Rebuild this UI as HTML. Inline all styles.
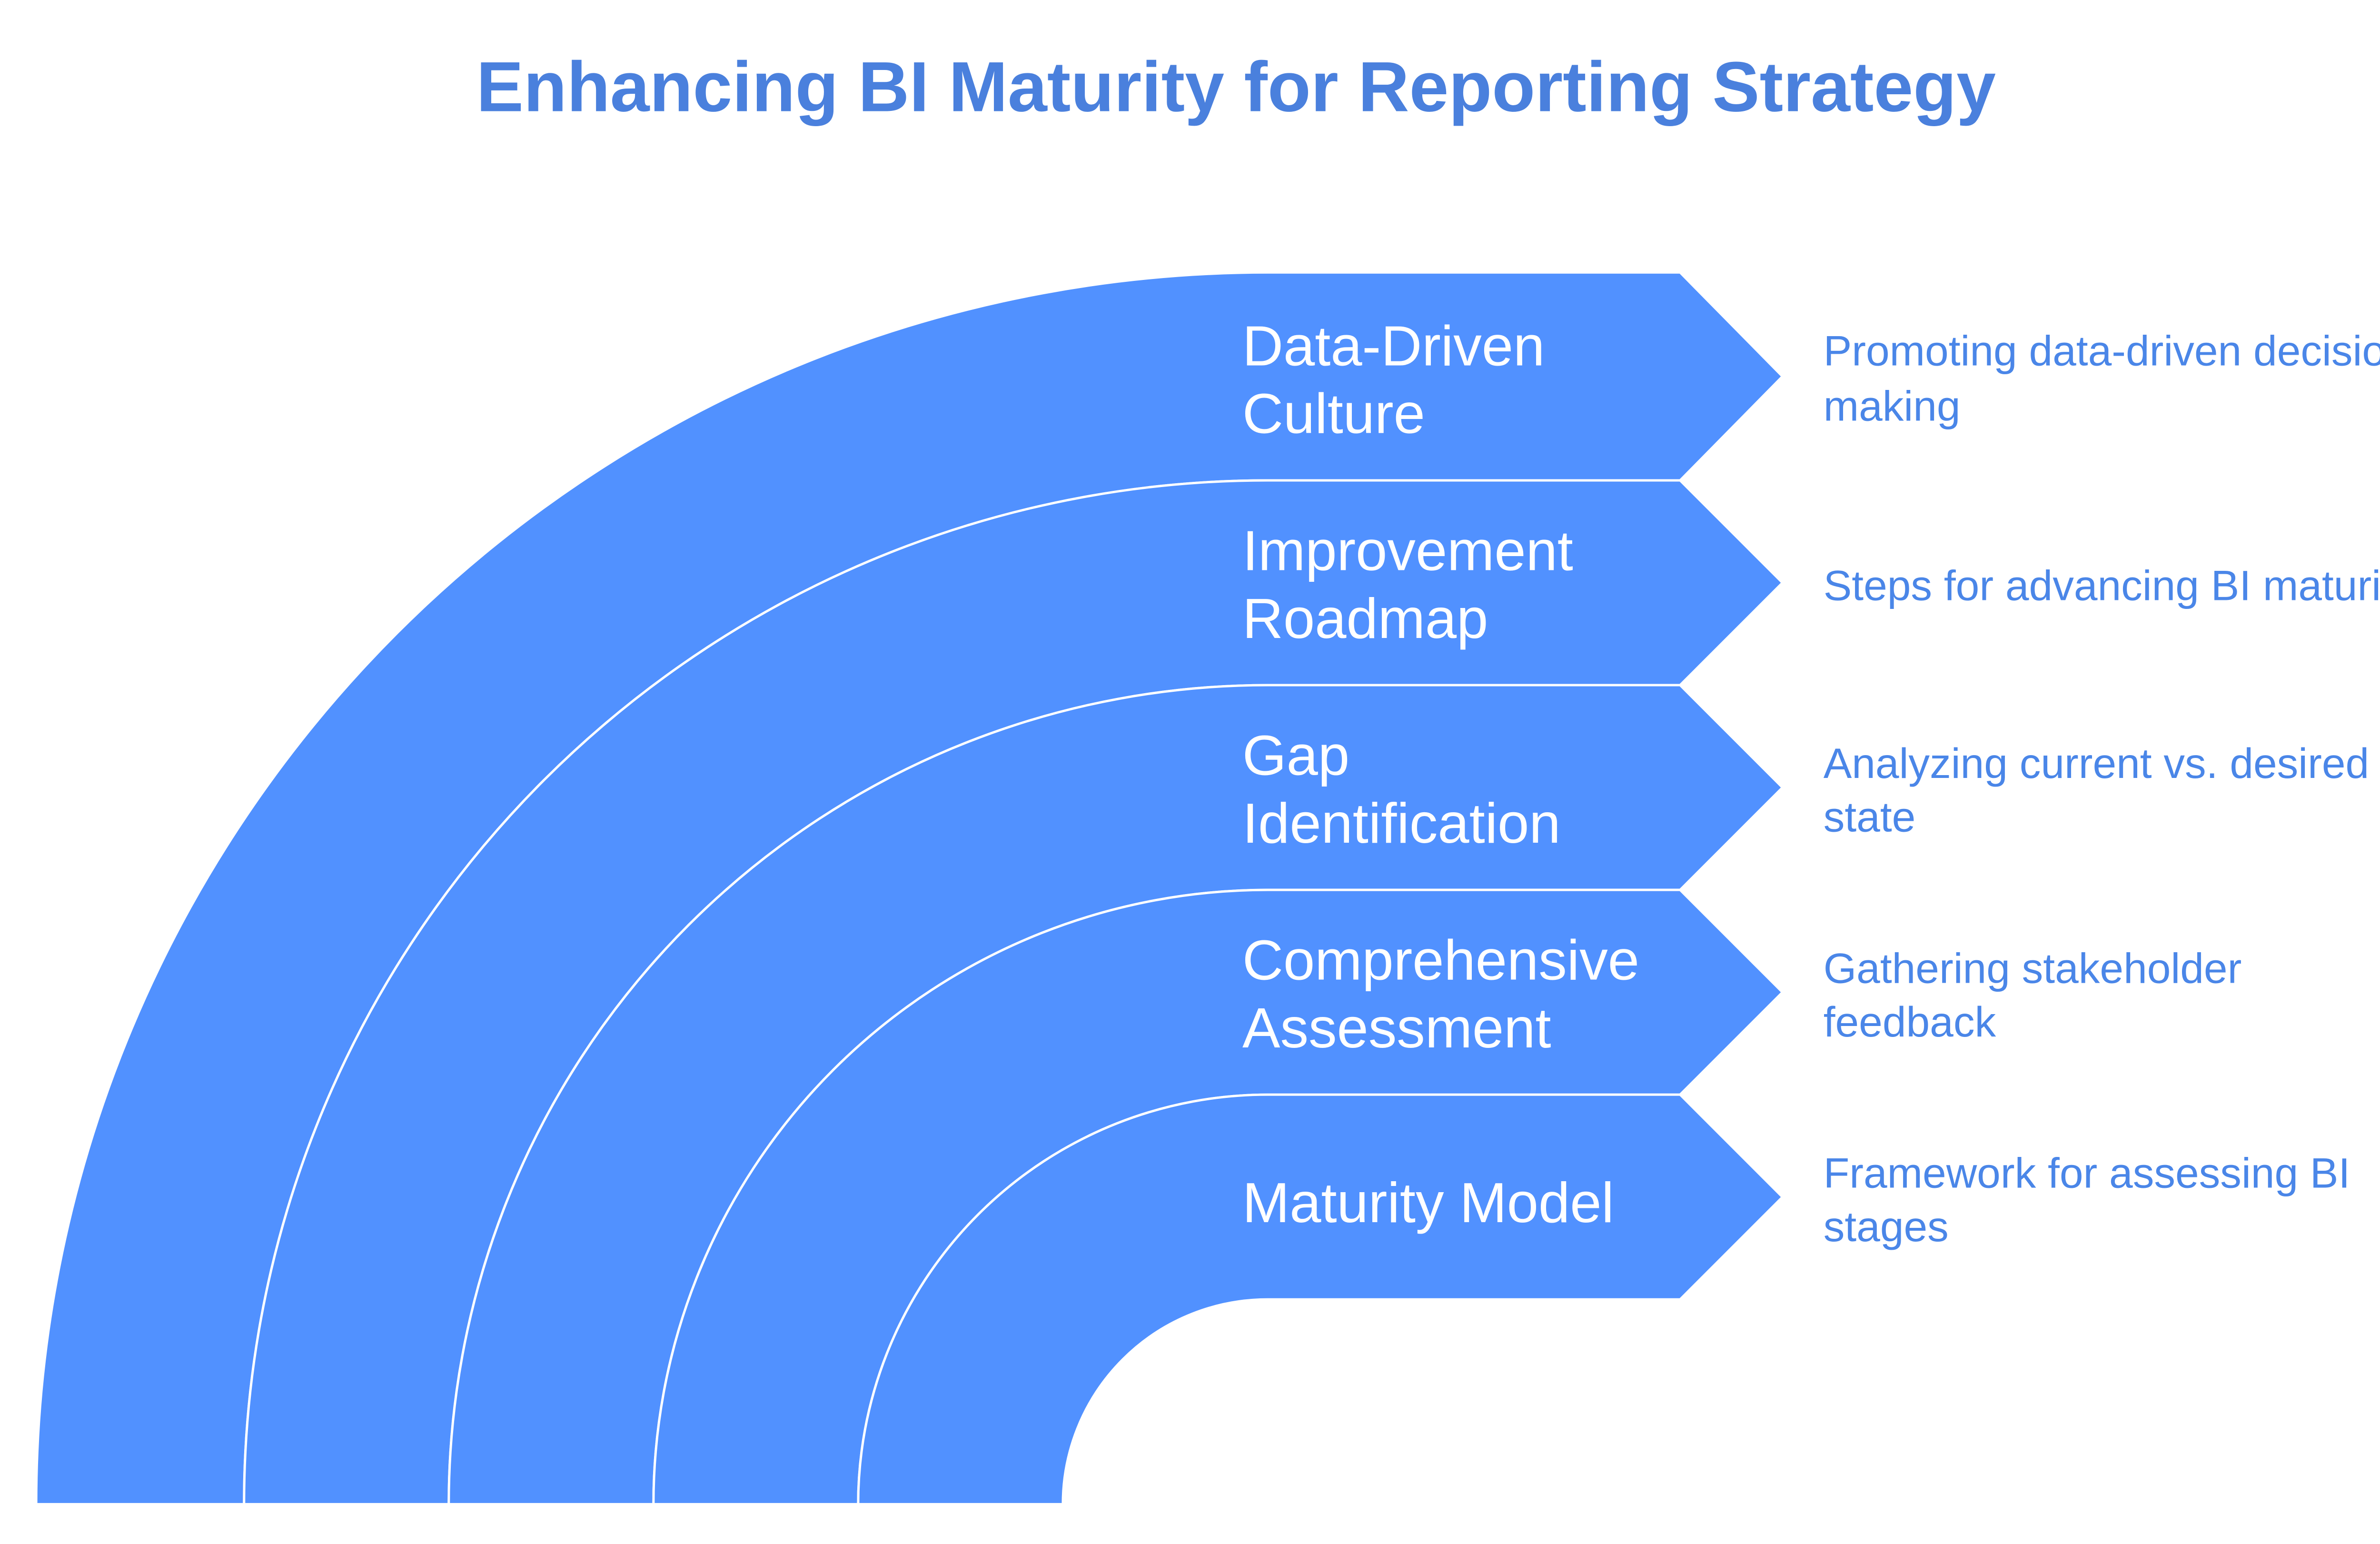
<!DOCTYPE html>
<html><head><meta charset="utf-8"><style>html,body{margin:0;padding:0;background:#fff}svg{display:block}</style></head>
<body>
<svg xmlns="http://www.w3.org/2000/svg" width="5187" height="3243" viewBox="0 0 1568 980.3" preserveAspectRatio="none">
<rect width="1568" height="981" fill="#fff"/>
<text x="785" y="55" text-anchor="middle" dominant-baseline="central" font-family="Liberation Sans, sans-serif" font-weight="bold" font-size="45" fill="#4a80dd">Enhancing BI Maturity for Reporting Strategy</text>
<g fill="#5191ff" stroke="#fff" stroke-width="1.5">
<path d="M23,955 A782,782 0 0 1 805,173 L1067,173 L1132,239 L1067,305 L805,305 A650,650 0 0 0 155,955 Z"/>
<path d="M155,955 A650,650 0 0 1 805,305 L1067,305 L1132,370 L1067,435 L805,435 A520,520 0 0 0 285,955 Z"/>
<path d="M285,955 A520,520 0 0 1 805,435 L1067,435 L1132,500 L1067,565 L805,565 A390,390 0 0 0 415,955 Z"/>
<path d="M415,955 A390,390 0 0 1 805,565 L1067,565 L1132,630 L1067,695 L805,695 A260,260 0 0 0 545,955 Z"/>
<path d="M545,955 A260,260 0 0 1 805,695 L1067,695 L1132,760 L1067,825 L805,825 A130,130 0 0 0 675,955 Z"/>
</g>
<g font-family="Liberation Sans, sans-serif" font-size="36" fill="#fff">
<text x="789" y="232">Data-Driven</text><text x="789" y="275">Culture</text>
<text x="789" y="362">Improvement</text><text x="789" y="405">Roadmap</text>
<text x="789" y="492">Gap</text><text x="789" y="535">Identification</text>
<text x="789" y="622">Comprehensive</text><text x="789" y="665">Assessment</text>
<text x="789" y="776">Maturity Model</text>
</g>
<g font-family="Liberation Sans, sans-serif" font-size="27" fill="#4a86e8">
<text x="1158" y="232">Promoting data-driven decision-</text><text x="1158" y="267">making</text>
<text x="1158" y="381">Steps for advancing BI maturity</text>
<text x="1158" y="494">Analyzing current vs. desired</text><text x="1158" y="528">state</text>
<text x="1158" y="624">Gathering stakeholder</text><text x="1158" y="658">feedback</text>
<text x="1158" y="754">Framework for assessing BI</text><text x="1158" y="788">stages</text>
</g>
</svg>
</body></html>
